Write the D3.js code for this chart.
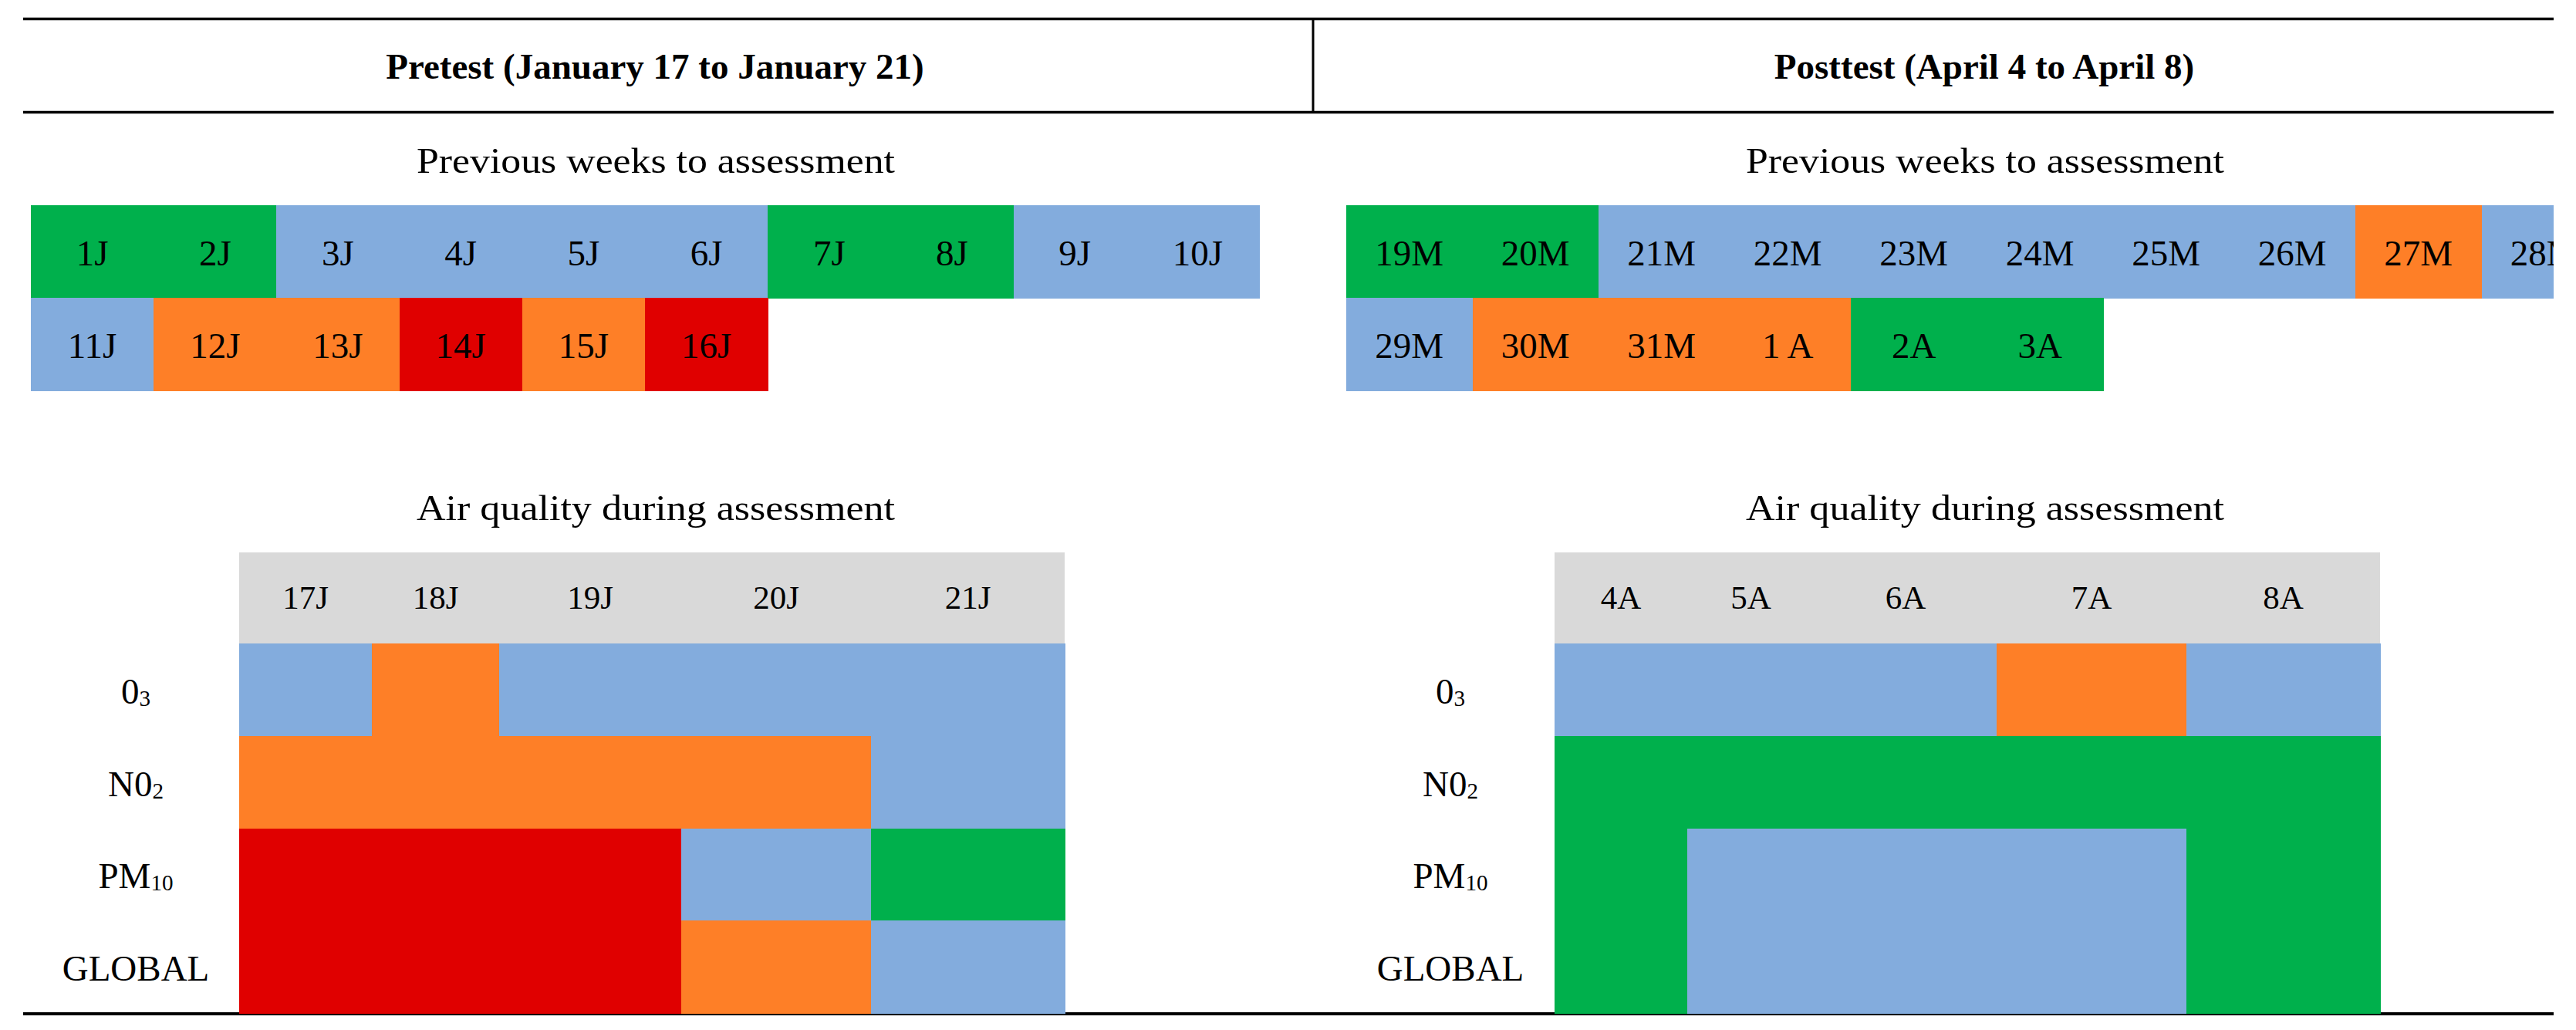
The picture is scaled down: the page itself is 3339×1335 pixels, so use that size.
<!DOCTYPE html>
<html>
<head>
<meta charset="utf-8">
<script src="https://cdn.jsdelivr.net/npm/d3@7"></script>
<style>
  html, body { margin: 0; padding: 0; background: #fff; }
  svg { display: block; }
  text { font-family: "Liberation Serif", "Times New Roman", serif; fill: #000; }
</style>
</head>
<body>
<svg id="chart" width="3339" height="1335"></svg>
<script>
// ---------------- DATA ----------------
const panelTitles = ["Pretest (January 17 to January 21)", "Posttest (April 4 to April 8)"];
const weeksTitle = "Previous weeks to assessment";
const dayTitle = "Air quality during assessment";

// Previous weeks (daily labels) and their air-quality category
const preWeeks = ["1J","2J","3J","4J","5J","6J","7J","8J","9J","10J","11J","12J","13J","14J","15J","16J"];
const preWeeksLevel = ["good","good","fair","fair","fair","fair","good","good","fair","fair","fair","poor","poor","verypoor","poor","verypoor"];
const postWeeks = ["19M","20M","21M","22M","23M","24M","25M","26M","27M","28M","29M","30M","31M","1 A","2A","3A"];
const postWeeksLevel = ["good","good","fair","fair","fair","fair","fair","fair","poor","fair","fair","poor","poor","poor","good","good"];

// Assessment days
const preDays = ["17J","18J","19J","20J","21J"];
const postDays = ["4A","5A","6A","7A","8A"];
const pollutants = ["O3","NO2","PM10","GLOBAL"];
// label parts: [main, subscript]
const pollutantLabels = [["0","3"],["N0","2"],["PM","10"],["GLOBAL",""]];

const preO3     = ["fair","poor","fair","fair","fair"];
const preNO2    = ["poor","poor","poor","poor","fair"];
const prePM10   = ["verypoor","verypoor","verypoor","fair","good"];
const preGLOBAL = ["verypoor","verypoor","verypoor","poor","fair"];

const postO3     = ["fair","fair","fair","poor","fair"];
const postNO2    = ["good","good","good","good","good"];
const postPM10   = ["good","fair","fair","fair","good"];
const postGLOBAL = ["good","fair","fair","fair","good"];

const levels = ["good","fair","poor","verypoor"];
const levelColors = ["#00B04C","#83ACDD","#FE7F27","#E00000"];

// ---------------- LAYOUT ----------------
const color = d3.scaleOrdinal().domain(levels).range(levelColors);
const svg = d3.select("#chart");
const FS = 47;
const SUBTITLE_W = 620;

const panels = [
  { title: panelTitles[0], titleX: 849, centerX: 850,
    weeks: preWeeks, weeksLevel: preWeeksLevel, weeksX: [40, 1632],
    days: preDays, grid: [preO3, preNO2, prePM10, preGLOBAL],
    heatX: [310, 1380], labelX: 176 },
  { title: panelTitles[1], titleX: 2572, centerX: 2573,
    weeks: postWeeks, weeksLevel: postWeeksLevel, weeksX: [1745, 3380],
    days: postDays, grid: [postO3, postNO2, postPM10, postGLOBAL],
    heatX: [2015, 3085], labelX: 1880 }
];

// relative column widths of the assessment table
const colWeights = [172, 165, 236, 246, 251];

// clip (right side is cut in the original)
svg.append("defs").append("clipPath").attr("id", "clipR")
  .append("rect").attr("x", 0).attr("y", 0).attr("width", 3310).attr("height", 1335);

// rules
const rule = (x1, y1, x2, y2, w) => svg.append("line")
  .attr("x1", x1).attr("y1", y1).attr("x2", x2).attr("y2", y2)
  .attr("stroke", "#000").attr("stroke-width", w);
rule(30, 24.5, 3310, 24.5, 3.4);
rule(30, 145.5, 3310, 145.5, 3.4);
rule(1702, 24.5, 1702, 145.5, 3);
rule(30, 1314, 3310, 1314, 3.8);

const weekRowY = d3.scaleBand().domain([0, 1]).range([266, 506]);
const rowY = d3.scaleBand().domain(pollutants).range([834, 1313]);
const headerY = [716, 834];

panels.forEach((p, pi) => {
  const g = svg.append("g").attr("clip-path", "url(#clipR)");

  // panel title
  g.append("text").attr("x", p.titleX).attr("y", 102)
    .attr("text-anchor", "middle").attr("font-weight", "bold")
    .attr("font-size", FS).text(p.title);

  // weeks title
  g.append("text").attr("x", p.centerX).attr("y", 224)
    .attr("text-anchor", "middle").attr("font-size", FS)
    .attr("textLength", SUBTITLE_W).attr("lengthAdjust", "spacingAndGlyphs")
    .text(weeksTitle);

  // weeks grid
  const wx = d3.scaleBand().domain(d3.range(10)).range(p.weeksX);
  const wdata = p.weeks.map((w, i) => ({ label: w, level: p.weeksLevel[i], col: i % 10, row: Math.floor(i / 10) }));
  const wg = g.append("g");
  wg.selectAll("rect").data(wdata).join("rect")
    .attr("x", d => wx(d.col)).attr("y", d => weekRowY(d.row))
    .attr("width", wx.bandwidth() + 0.5).attr("height", weekRowY.bandwidth() + 0.5)
    .attr("fill", d => color(d.level)).attr("shape-rendering", "crispEdges");
  wg.selectAll("text").data(wdata).join("text")
    .attr("x", d => wx(d.col) + wx.bandwidth() / 2)
    .attr("y", d => weekRowY(d.row) + weekRowY.bandwidth() / 2 + 18)
    .attr("text-anchor", "middle").attr("font-size", FS).text(d => d.label);

  // assessment title
  g.append("text").attr("x", p.centerX).attr("y", 674)
    .attr("text-anchor", "middle").attr("font-size", FS)
    .attr("textLength", SUBTITLE_W).attr("lengthAdjust", "spacingAndGlyphs")
    .text(dayTitle);

  // assessment table columns
  const hx = d3.scaleLinear().domain([0, d3.sum(colWeights)]).range(p.heatX);
  const edges = [0, ...d3.cumsum(colWeights)];
  const cols = p.days.map((d, i) => ({ day: d, x0: hx(edges[i]), x1: hx(edges[i + 1]) }));

  g.append("rect").attr("x", p.heatX[0]).attr("y", headerY[0])
    .attr("width", p.heatX[1] - p.heatX[0]).attr("height", headerY[1] - headerY[0])
    .attr("fill", "#D9D9D9");
  g.selectAll("text.day").data(cols).join("text").attr("class", "day")
    .attr("x", d => (d.x0 + d.x1) / 2).attr("y", 789)
    .attr("text-anchor", "middle").attr("font-size", FS - 4).text(d => d.day);

  const cells = [];
  pollutants.forEach((pol, r) => {
    p.grid[r].forEach((lv, c) => cells.push({ pol, lv, x0: cols[c].x0, x1: cols[c].x1 }));
  });
  g.selectAll("rect.cell").data(cells).join("rect").attr("class", "cell")
    .attr("x", d => d.x0).attr("y", d => rowY(d.pol))
    .attr("width", d => d.x1 - d.x0 + 0.5).attr("height", rowY.bandwidth() + 0.5)
    .attr("fill", d => color(d.lv)).attr("shape-rendering", "crispEdges");

  // row labels
  pollutants.forEach((pol, r) => {
    const t = g.append("text").attr("x", p.labelX)
      .attr("y", rowY(pol) + rowY.bandwidth() / 2 + 18)
      .attr("text-anchor", "middle").attr("font-size", FS);
    t.append("tspan").text(pollutantLabels[r][0]);
    if (pollutantLabels[r][1]) {
      t.append("tspan").attr("font-size", FS * 0.62).attr("dy", 3).text(pollutantLabels[r][1]);
    }
  });
});
</script>
</body>
</html>
